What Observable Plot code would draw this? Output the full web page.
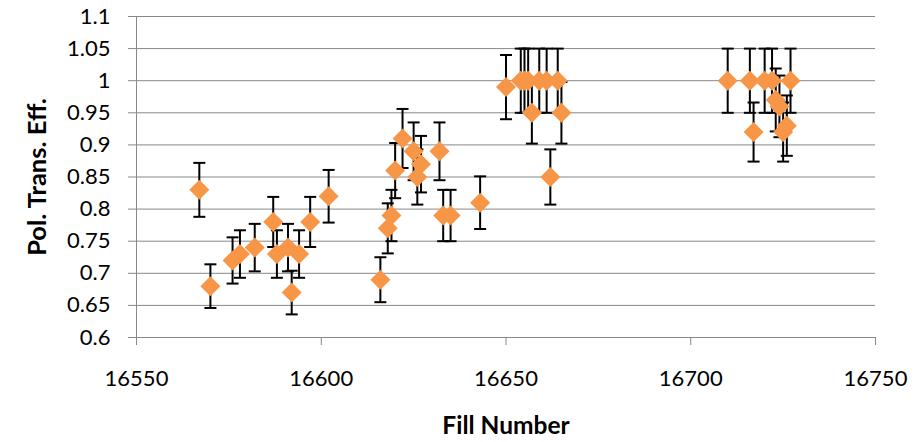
<!DOCTYPE html>
<html>
<head>
<meta charset="utf-8">
<script src="https://cdn.jsdelivr.net/npm/d3@7"></script>
<script src="https://cdn.jsdelivr.net/npm/@observablehq/plot@0.6"></script>
<style>
  html, body { margin: 0; padding: 0; background: #fff; }
  #chart svg [aria-label^="y-axis"] line,
  #chart svg [aria-label^="x-axis"] line,
  #chart svg [aria-label="y-axis tick"] path,
  #chart svg [aria-label="x-axis tick"] path { stroke: #888888; }
</style>
</head>
<body>
<div id="chart"></div>
<script>
// Fill numbers (x), polarization transfer efficiency (y), error half-widths
const fills = [16567,16570,16576,16578,16582,16587,16588,16591,16592,16594,16597,16602,16616,16618,16619,16620,16622,16625,16626,16627,16632,16633,16635,16643,16650,16654,16655,16656,16657,16659,16661,16662,16664,16665,16710,16716,16717,16720,16722,16723,16724,16725,16726,16727];
const effs = [0.83,0.68,0.72,0.73,0.74,0.78,0.73,0.74,0.67,0.73,0.78,0.82,0.69,0.77,0.79,0.86,0.91,0.89,0.85,0.87,0.89,0.79,0.79,0.81,0.99,1,1,1,0.95,1,1,0.85,1,0.95,1,1,0.92,1,1,0.97,0.96,0.92,0.93,1];
const errs = [0.042,0.034,0.036,0.037,0.037,0.039,0.037,0.037,0.034,0.037,0.039,0.041,0.035,0.039,0.040,0.043,0.046,0.045,0.043,0.044,0.045,0.040,0.040,0.041,0.050,0.05,0.05,0.05,0.048,0.05,0.05,0.043,0.05,0.048,0.05,0.05,0.046,0.05,0.05,0.049,0.048,0.046,0.047,0.05];

const xTicks = [16550,16600,16650,16700,16750];
const xTickLabels = ["16550","16600","16650","16700","16750"];
const yTicks = [0.6,0.65,0.7,0.75,0.8,0.85,0.9,0.95,1,1.05,1.1];
const yTickLabels = ["0.6","0.65","0.7","0.75","0.8","0.85","0.9","0.95","1","1.05","1.1"];
const xTitle = "Fill Number";
const yTitle = "Pol. Trans. Eff.";

const data = fills.map((f, i) => ({fill: f, eff: effs[i], lo: effs[i] - errs[i], hi: effs[i] + errs[i]}));

const diamond = {
  draw(context, size) {
    const r = Math.sqrt(size / Math.PI);
    context.moveTo(0, -r);
    context.lineTo(r, 0);
    context.lineTo(0, r);
    context.lineTo(-r, 0);
    context.closePath();
  }
};
const cap = {
  draw(context, size) {
    const r = Math.sqrt(size / Math.PI);
    context.moveTo(-r, 0);
    context.lineTo(r, 0);
  }
};

const chart = Plot.plot({
  width: 915,
  height: 442,
  marginLeft: 136,
  marginRight: 40,
  marginTop: 16,
  marginBottom: 105,
  style: {fontFamily: "Lato", fontSize: "22px", color: "#000", background: "#fff", overflow: "visible"},
  x: {
    domain: [16550, 16750],
    ticks: xTicks,
    tickFormat: d => xTickLabels[xTicks.indexOf(d)],
    tickSize: 8,
    tickPadding: 25,
    label: null
  },
  y: {
    domain: [0.6, 1.1],
    ticks: yTicks,
    tickFormat: d => yTickLabels[yTicks.indexOf(d)],
    tickSize: 8,
    tickPadding: 18,
    label: null
  },
  marks: [
    Plot.ruleY(yTicks, {stroke: "#888888", strokeWidth: 1}),
    Plot.ruleX([16550], {stroke: "#888888", strokeWidth: 1}),
    Plot.ruleX(data, {x: "fill", y1: "lo", y2: "hi", stroke: "#000", strokeWidth: 2}),
    Plot.dot(data, {x: "fill", y: "lo", symbol: cap, r: 6, stroke: "#000", strokeWidth: 2, fill: "none"}),
    Plot.dot(data, {x: "fill", y: "hi", symbol: cap, r: 6, stroke: "#000", strokeWidth: 2, fill: "none"}),
    Plot.dot(data, {x: "fill", y: "eff", symbol: diamond, r: 10, fill: "#F79646", stroke: "none"}),
    Plot.text([xTitle], {frameAnchor: "bottom", textAnchor: "middle", dy: 96, fontWeight: "bold", fontSize: 24.5, fill: "#000"}),
    Plot.text([yTitle], {frameAnchor: "left", textAnchor: "middle", dx: -99, rotate: -90, fontWeight: "bold", fontSize: 25.5, fill: "#000"})
  ]
});
document.getElementById("chart").append(chart);
</script>
</body>
</html>
